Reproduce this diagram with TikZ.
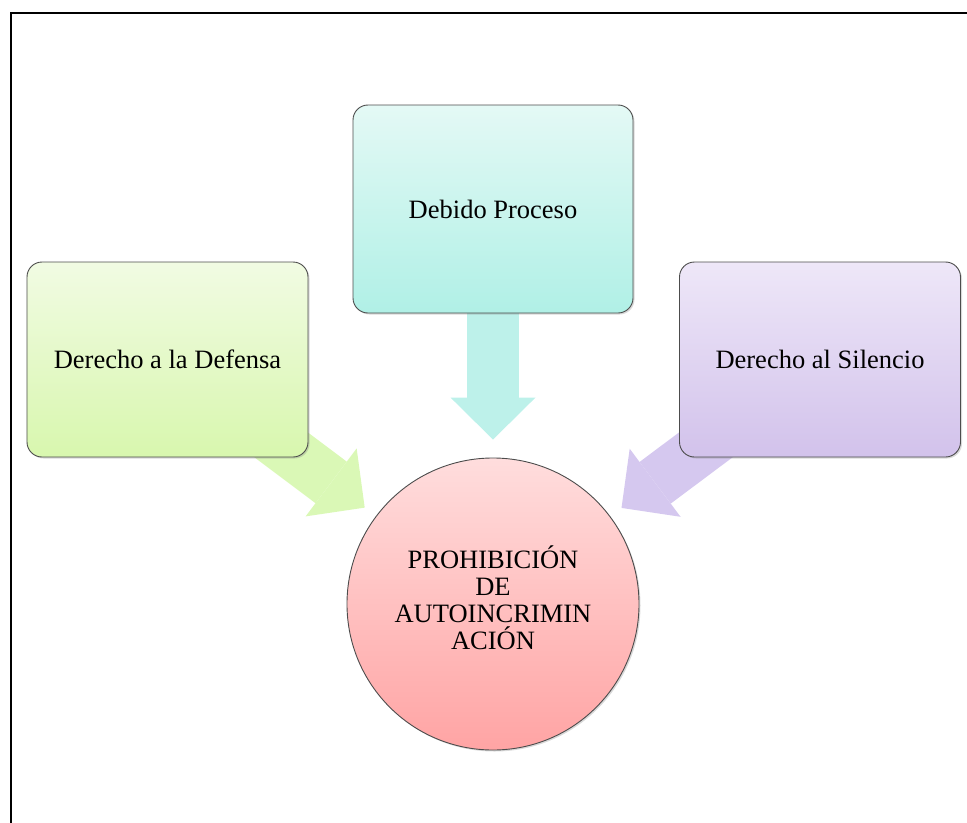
\documentclass[tikz,border=0pt]{standalone}
\usepackage{fontspec}
\setmainfont{Liberation Serif}
\usetikzlibrary{arrows.meta}
\usetikzlibrary{shadows}
\definecolor{greentop}{HTML}{F1FBE3}
\definecolor{greenbot}{HTML}{D8F7AE}
\definecolor{tealtop}{HTML}{E4F9F5}
\definecolor{tealbot}{HTML}{B0F0E6}
\definecolor{lilactop}{HTML}{EEE7F8}
\definecolor{lilacbot}{HTML}{D2C2EB}
\definecolor{rosetop}{HTML}{FFDDDD}
\definecolor{rosebot}{HTML}{FFA4A4}
\definecolor{greenarrow}{HTML}{DAF8B6}
\definecolor{tealarrow}{HTML}{BDF1EA}
\definecolor{lilacarrow}{HTML}{D5C8EF}
\pgfdeclarelayer{back}
\pgfsetlayers{back,main}
\tikzset{
every node/.style={ % Same serif text everywhere
font=\fontsize{26.5bp}{27bp}\selectfont},
box/.style={ % Rounded boxes round the centre
rectangle,
rounded corners=15bp,
draw=gray!60!black,
line width=0.9bp,
minimum width=281bp,
minimum height=195bp,
align=center,
drop shadow={shadow xshift=1.5bp, shadow yshift=-1.5bp, opacity=0.3}},
fat/.style={ % Broad block arrows
line width=52bp,
-{Triangle[length=42bp, width=85bp, line width=0pt]}}}

\begin{document}
\begin{tikzpicture}[x=1bp, y=-1bp]
	\useasboundingbox (0,0) rectangle (967,823);
	\draw[line width=2bp] (10.5,823) -- (10.5,12.5) -- (967,12.5);
	\node[box, top color=greentop, bottom color=greenbot] (defensa) at (167.5,359.5) {Derecho a la Defensa};
	\node[box, top color=tealtop, bottom color=tealbot, minimum width=280bp, minimum height=208bp] (proceso) at (493,209) {Debido Proceso};
	\node[box, top color=lilactop, bottom color=lilacbot] (silencio) at (820,359.5) {Derecho al Silencio};
	\node[circle, draw=gray!60!black, line width=0.9bp, minimum size=292bp, inner sep=0pt, align=center,
		top color=rosetop, bottom color=rosebot,
		drop shadow={shadow xshift=1.5bp, shadow yshift=-1.5bp, opacity=0.3}] (prohibicion) at (493,604)
		{PROHIBICIÓN\\DE\\AUTOINCRIMIN\\ACIÓN\\[-14bp]};
	\begin{pgfonlayer}{back}
	\draw[fat, draw=greenarrow, shorten >=14bp] (defensa.center) -- (prohibicion);
	\draw[fat, draw=tealarrow, shorten >=18bp] (proceso.center) -- (prohibicion);
	\draw[fat, draw=lilacarrow, shorten >=14bp] (silencio.center) -- (prohibicion);
	\end{pgfonlayer}
\end{tikzpicture}
\end{document}
